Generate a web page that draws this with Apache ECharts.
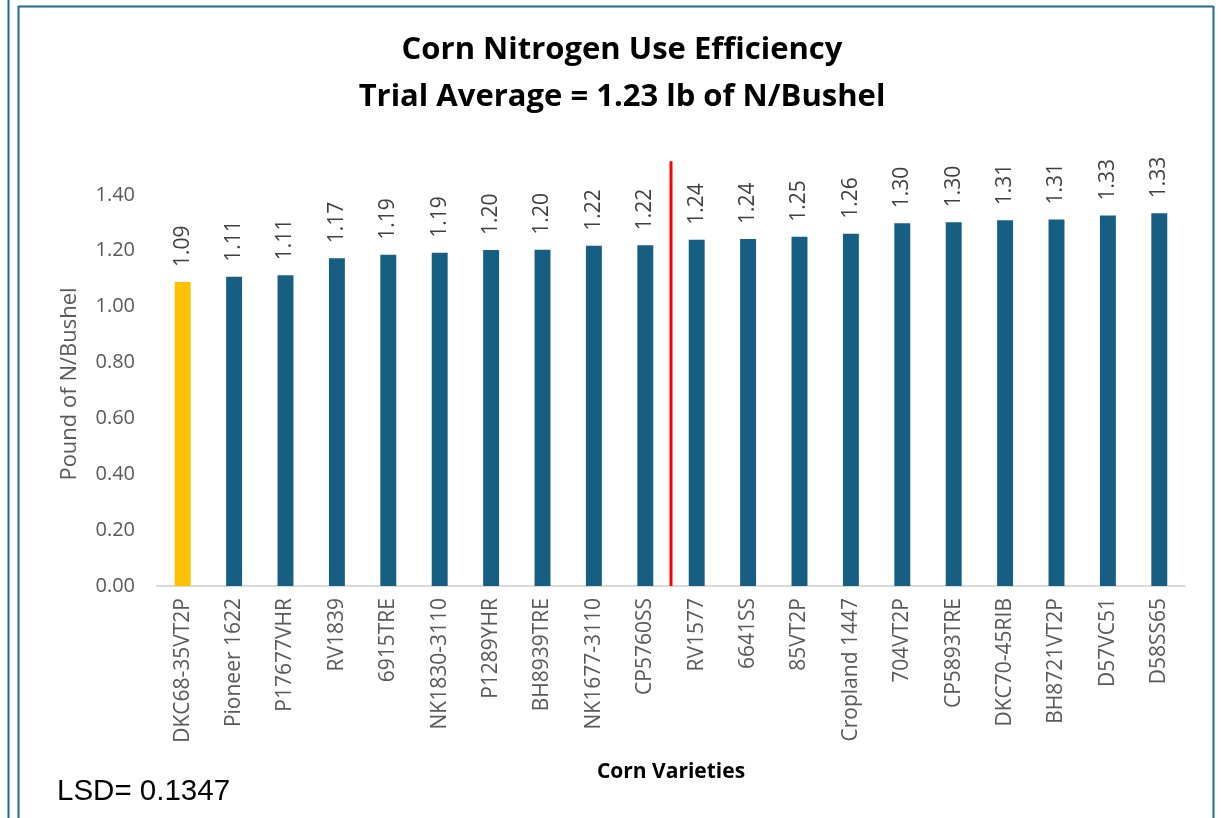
<!DOCTYPE html>
<html>
<head>
<meta charset="utf-8">
<script src="https://cdn.jsdelivr.net/npm/echarts@6/dist/echarts.min.js"></script>
<style>html,body{margin:0;padding:0;background:#fff}#c{width:1222px;height:818px}</style>
</head>
<body>
<div id="c"></div>
<script>
const categories = ['DKC68-35VT2P','Pioneer 1622','P17677VHR','RV1839','6915TRE','NK1830-3110','P1289YHR','BH8939TRE','NK1677-3110','CP5760SS','RV1577','6641SS','85VT2P','Cropland 1447','704VT2P','CP5893TRE','DKC70-45RIB','BH8721VT2P','D57VC51','D58SS65'];
const values = [1.088,1.107,1.112,1.173,1.186,1.193,1.203,1.204,1.218,1.220,1.239,1.242,1.250,1.261,1.298,1.302,1.309,1.312,1.326,1.334];
const highlightIndex = [0];
const dividerAt = 10;      // boundary between CP5760SS and RV1577
const dividerTop = 1.52;
const yTicks = [0, 0.2, 0.4, 0.6, 0.8, 1.0, 1.2, 1.4];

const chart = echarts.init(document.getElementById('c'), null, {renderer: 'canvas'});
const frameColor = '#1f6b8f';
chart.setOption({
  animation: false,
  backgroundColor: '#fff',
  title: {
    text: 'Corn Nitrogen Use Efficiency\nTrial Average = 1.23 lb of N/Bushel',
    left: 617, top: 22, textAlign: 'center',
    textStyle: {fontFamily: 'Open Sans', fontWeight: 'bold', fontSize: 31, lineHeight: 47, color: '#000'}
  },
  graphic: [
    {type: 'line', shape: {x1: 8.5, y1: 0, x2: 8.5, y2: 818}, style: {stroke: frameColor, lineWidth: 2}},
    {type: 'line', shape: {x1: 18.5, y1: 6, x2: 18.5, y2: 818}, style: {stroke: frameColor, lineWidth: 2}},
    {type: 'line', shape: {x1: 18, y1: 6.5, x2: 1213.5, y2: 6.5}, style: {stroke: frameColor, lineWidth: 2}},
    {type: 'line', shape: {x1: 1213.5, y1: 6, x2: 1213.5, y2: 818}, style: {stroke: frameColor, lineWidth: 2}},
    {type: 'text', left: 57, top: 777, style: {text: 'LSD= 0.1347', fontFamily: 'Liberation Sans', fontSize: 29.5, fill: '#000'}},
    {type: 'text', x: 70, y: 384, rotation: Math.PI / 2,
      style: {text: 'Pound of N/Bushel', fontFamily: 'Open Sans', fontSize: 22, fill: '#595959', align: 'center', verticalAlign: 'middle'}}
  ],
  grid: {left: 157, right: 37, top: 139, bottom: 232},
  xAxis: [{
    type: 'category', data: categories,
    name: 'Corn Varieties', nameLocation: 'middle', nameGap: 176,
    nameTextStyle: {fontFamily: 'Open Sans', fontWeight: 'bold', fontSize: 21, color: '#000'},
    axisLine: {lineStyle: {color: '#d9d9d9', width: 2}},
    axisTick: {show: false},
    axisLabel: {rotate: 90, interval: 0, margin: 12, fontFamily: 'Open Sans', fontSize: 21, color: '#595959'}
  }, {
    type: 'value', min: 0, max: categories.length, show: false
  }],
  yAxis: {
    type: 'value', min: 0, max: 1.6, interval: 0.2,
    axisLine: {show: false}, axisTick: {show: false}, splitLine: {show: false},
    axisLabel: {margin: 22, fontFamily: 'Open Sans', fontSize: 20, color: '#595959',
      formatter: v => yTicks.some(t => Math.abs(t - v) < 1e-6) ? v.toFixed(2) : ''}
  },
  series: [{
    type: 'bar', xAxisIndex: 0, barWidth: '31%',
    data: values.map((v, i) => ({value: v, itemStyle: {color: highlightIndex.includes(i) ? '#ffc000' : '#175f82'}})),
    label: {show: true, position: 'top', rotate: 90, align: 'left', verticalAlign: 'middle', distance: 15,
      fontFamily: 'Open Sans', fontSize: 21, color: '#404040', formatter: p => p.value.toFixed(2)}
  }, {
    type: 'line', xAxisIndex: 1, data: [[dividerAt, 0], [dividerAt, dividerTop]],
    symbol: 'none', lineStyle: {color: '#ff0000', width: 3}, clip: false, z: 5
  }]
});
</script>
</body>
</html>
